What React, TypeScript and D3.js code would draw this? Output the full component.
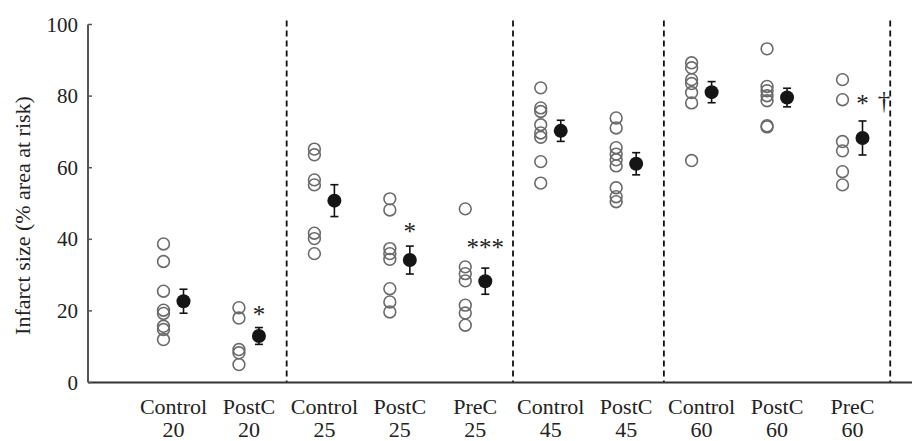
import React from "react";
import * as d3 from "d3";

const treatments = ["Control", "PostC", "Control", "PostC", "PreC", "Control", "PostC", "Control", "PostC", "PreC"];
const durations = ["20", "20", "25", "25", "25", "45", "45", "60", "60", "60"];
const categories = treatments.map((t, i) => `${t} ${durations[i]}`);

const individuals: number[][] = [
  [38.7, 33.8, 25.5, 20.2, 19.3, 15.7, 14.8, 12.0],
  [20.9, 18.0, 9.2, 8.3, 5.0],
  [65.2, 63.6, 56.6, 55.2, 41.7, 40.2, 36.0],
  [51.3, 48.2, 37.4, 36.0, 34.4, 26.2, 22.5, 19.7],
  [48.5, 32.3, 30.4, 28.4, 21.6, 19.4, 16.0],
  [82.3, 76.7, 75.7, 72.0, 69.7, 68.5, 61.7, 55.7],
  [73.9, 71.1, 65.6, 63.8, 62.2, 60.5, 54.4, 51.9, 50.5],
  [89.3, 87.9, 84.6, 83.5, 81.0, 78.1, 62.0],
  [93.2, 82.7, 81.5, 80.1, 78.7, 71.7, 71.4],
  [84.6, 79.0, 67.3, 64.7, 58.9, 55.2],
];

const means = [22.7, 13.0, 50.8, 34.2, 28.3, 70.3, 61.1, 81.1, 79.6, 68.3];
const sems = [3.35, 2.35, 4.45, 3.9, 3.65, 2.95, 3.1, 2.95, 2.6, 4.75];

const yTicks = [0, 20, 40, 60, 80, 100];
const groupEnds = ["PostC 20", "PreC 25", "PostC 45", "PreC 60"];

// significance marks: category, text, vertical centre in data units
const marks = [
  { cat: "PostC 20", text: "*", value: 20.2, side: "mean" },
  { cat: "PostC 25", text: "*", value: 43.5, side: "mean" },
  { cat: "PreC 25", text: "***", value: 39.0, side: "mean" },
  { cat: "PreC 60", text: "*", value: 79.2, side: "mean" },
  { cat: "PreC 60", text: "†", value: 78.9, side: "outer" },
];

const W = 912;
const H = 441;
const FONT = "'Liberation Serif', 'Times New Roman', serif";

export default function App() {
  const x = d3.scalePoint<string>().domain(categories).range([173.5, 852.5]);
  const step = x.step();
  const y = d3.scaleLinear().domain([0, 100]).range([382.5, 24.5]);
  const axisX0 = 88;
  const openDx = -10;
  const meanDx = 10;

  return (
    <svg width={W} height={H} style={{ position: "absolute", left: 0, top: 0, background: "#fff" }}>
      {/* group dividers */}
      {groupEnds.map((c) => {
        const xx = (x(c) as number) + step / 2;
        return (
          <line key={c} x1={xx} x2={xx} y1={y(100) - 4} y2={y(0)} stroke="#111" strokeWidth={1.8} strokeDasharray="6,4" />
        );
      })}
      {/* axes */}
      <line x1={axisX0} x2={W} y1={y(0)} y2={y(0)} stroke="#333" strokeWidth={2} />
      <line x1={axisX0} x2={axisX0} y1={y(0)} y2={y(100)} stroke="#555" strokeWidth={2} />
      {yTicks.map((t) => (
        <g key={t}>
          <line x1={axisX0} x2={axisX0 + 4} y1={y(t)} y2={y(t)} stroke="#555" strokeWidth={1.5} />
          <text x={78} y={y(t)} dy="0.34em" textAnchor="end" fontFamily={FONT} fontSize={21} fill="#222">
            {t}
          </text>
        </g>
      ))}
      <text
        transform={`translate(22, ${(y(0) + y(100)) / 2 + 12}) rotate(-90)`}
        textAnchor="middle"
        dy="0.35em"
        fontFamily={FONT}
        fontSize={22}
        fill="#222"
      >
        Infarct size (% area at risk)
      </text>
      {/* category labels */}
      {categories.map((c, i) => (
        <g key={c}>
          <text x={x(c)} y={414} textAnchor="middle" fontFamily={FONT} fontSize={22} fill="#222">
            {treatments[i]}
          </text>
          <text x={x(c)} y={437} textAnchor="middle" fontFamily={FONT} fontSize={22} fill="#222">
            {durations[i]}
          </text>
        </g>
      ))}
      {/* individual points */}
      {categories.map((c, i) =>
        individuals[i].map((v, j) => (
          <circle key={`${c}-${j}`} cx={(x(c) as number) + openDx} cy={y(v)} r={5.9} fill="none" stroke="#6a6a6a" strokeWidth={1.6} />
        ))
      )}
      {/* means with SEM */}
      {categories.map((c, i) => {
        const cx = (x(c) as number) + meanDx;
        const top = y(means[i] + sems[i]);
        const bot = y(means[i] - sems[i]);
        return (
          <g key={`m-${c}`}>
            <line x1={cx} x2={cx} y1={top} y2={bot} stroke="#111" strokeWidth={1.6} />
            <line x1={cx - 4} x2={cx + 4} y1={top} y2={top} stroke="#111" strokeWidth={1.6} />
            <line x1={cx - 4} x2={cx + 4} y1={bot} y2={bot} stroke="#111" strokeWidth={1.6} />
            <circle cx={cx} cy={y(means[i])} r={7} fill="#151515" />
          </g>
        );
      })}
      {/* significance marks */}
      {marks.map((m, k) => {
        const cx = (x(m.cat) as number) + (m.side === "mean" ? meanDx : 31.5);
        const isDagger = m.text === "†";
        return (
          <text
            key={k}
            x={cx}
            y={y(m.value) + (isDagger ? 9 : 13)}
            textAnchor="middle"
            fontFamily={FONT}
            fontSize={25}
            fill="#222"
          >
            {m.text}
          </text>
        );
      })}
    </svg>
  );
}
